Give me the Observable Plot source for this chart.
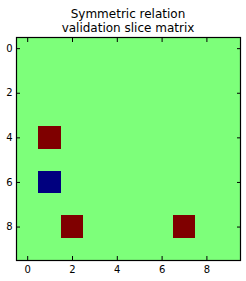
<!DOCTYPE html>
<html><head><meta charset="utf-8">
<script src="https://cdn.jsdelivr.net/npm/d3@7"></script>
<script src="https://cdn.jsdelivr.net/npm/@observablehq/plot@0.6"></script>
<style>
body{margin:0;background:#fff;}
#wrap{position:relative;width:246px;height:281px;}
#title{position:absolute;top:8px;left:16px;width:224px;text-align:center;font-family:"DejaVu Sans";font-size:12px;line-height:13.5px;color:#000;}
</style></head><body>
<div id="wrap"></div>
<script>
const matrix = [
  [0,0,0,0,0,0,0,0,0,0],
  [0,0,0,0,0,0,0,0,0,0],
  [0,0,0,0,0,0,0,0,0,0],
  [0,0,0,0,0,0,0,0,0,0],
  [0,1,0,0,0,0,0,0,0,0],
  [0,0,0,0,0,0,0,0,0,0],
  [0,-1,0,0,0,0,0,0,0,0],
  [0,0,0,0,0,0,0,0,0,0],
  [0,0,1,0,0,0,0,1,0,0],
  [0,0,0,0,0,0,0,0,0,0]
];
const tickValues = [0,2,4,6,8];
const colorValues = [-1,0,1];
const colorRange = ["#00007f","#7dff7a","#7f0000"];
const titleLines = ["Symmetric relation","validation slice matrix"];

const cells = matrix.flatMap((row, r) => row.map((v, c) => ({r, c, v})));

const chart = Plot.plot({
  width: 246, height: 281,
  marginTop: 37, marginBottom: 21, marginLeft: 16, marginRight: 6,
  style: {fontFamily: "DejaVu Sans", fontSize: "10px", color: "#000", background: "#fff"},
  x: {domain: [-0.5, 9.5], axis: null},
  y: {domain: [-0.5, 9.5], reverse: true, axis: null},
  color: {type: "ordinal", domain: colorValues, range: colorRange},
  marks: [
    Plot.rect(cells, {x1: d => d.c - 0.5, x2: d => d.c + 0.5, y1: d => d.r - 0.5, y2: d => d.r + 0.5, fill: "v", shapeRendering: "crispEdges"}),
    Plot.axisX(tickValues, {anchor: "bottom", tickSize: 0, tickPadding: 5, fontSize: 10, label: null}),
    Plot.axisY(tickValues, {anchor: "left", tickSize: 0, tickPadding: 4, fontSize: 10, label: null}),
    Plot.axisX(tickValues, {anchor: "bottom", tickSize: -4, tickFormat: () => "", label: null}),
    Plot.axisX(tickValues, {anchor: "top", tickSize: -4, tickFormat: () => "", label: null}),
    Plot.axisY(tickValues, {anchor: "left", tickSize: -4, tickFormat: () => "", label: null}),
    Plot.axisY(tickValues, {anchor: "right", tickSize: -4, tickFormat: () => "", label: null}),
    Plot.frame({stroke: "#000", strokeWidth: 1.2})
  ]
});
const wrap = document.getElementById("wrap");
wrap.appendChild(chart);
const t = document.createElement("div");
t.id = "title";
t.innerHTML = titleLines.join("<br>");
wrap.appendChild(t);
</script>
</body></html>
